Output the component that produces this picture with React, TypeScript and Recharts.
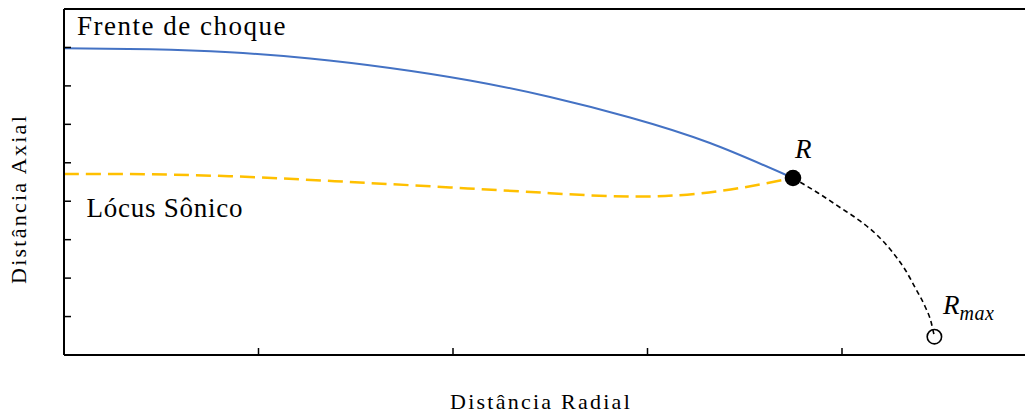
import React from 'react';
import { ComposedChart, XAxis, YAxis, Line, Scatter } from 'recharts';

// values (radial, axial)
const shockX = [0, 0.442, 0.853, 1.265, 1.676, 2.087, 2.499, 2.91, 3.321, 3.748];
const shockY = [7.978, 7.952, 7.874, 7.713, 7.466, 7.14, 6.711, 6.178, 5.514, 4.604];

const sonicX = [0, 0.442, 0.956, 1.47, 1.985, 2.499, 2.961, 3.373, 3.748];
const sonicY = [4.71, 4.7, 4.63, 4.5, 4.36, 4.21, 4.12, 4.265, 4.604];

const rmaxX = [3.748, 3.877, 3.99, 4.093, 4.18, 4.257, 4.324, 4.38, 4.427, 4.458, 4.475];
const rmaxY = [4.604, 4.214, 3.837, 3.486, 3.121, 2.692, 2.224, 1.717, 1.261, 0.858, 0.476];

const rPoint = [{ x: 3.748, y: 4.604 }];
const rmaxPoint = [{ x: 4.475, y: 0.476 }];

const xTicks = [1, 2, 3, 4];
const yTicks = [1, 2, 3, 4, 5, 6, 7, 8];

const toPts = (xs: number[], ys: number[]) => xs.map((x, i) => ({ x, y: ys[i] }));
const shockData = toPts(shockX, shockY);
const sonicData = toPts(sonicX, sonicY);
const rmaxData = toPts(rmaxX, rmaxY);

const serif = "'Liberation Serif', 'DejaVu Serif', serif";
const noLabel = () => <g />;
const axisLine = { stroke: '#000', strokeWidth: 2 };
const tickLine = { stroke: '#000', strokeWidth: 1.5 };

const txt = (left: number, top: number, size: number, extra: React.CSSProperties = {}): React.CSSProperties => ({
  position: 'absolute',
  left,
  top,
  fontFamily: serif,
  fontSize: size,
  lineHeight: 1,
  whiteSpace: 'nowrap',
  color: '#000',
  ...extra,
});

export default function App() {
  return (
    <div style={{ position: 'absolute', left: 0, top: 0, width: 1025, height: 416, overflow: 'hidden', background: '#fff' }}>
      {/* plot box: left 64, top 9, bottom 355, right ~1036 (cropped) */}
      <ComposedChart width={1045} height={416} margin={{ top: 8, right: 7.5, bottom: 41, left: 44 }}>
        <XAxis xAxisId="x" dataKey="x" type="number" domain={[0, 5]} ticks={xTicks} height={20}
          axisLine={axisLine} tickLine={tickLine} tickSize={-7} tick={noLabel} allowDataOverflow />
        <XAxis xAxisId="top" orientation="top" type="number" domain={[0, 5]} height={1}
          axisLine={axisLine} tick={false} tickLine={false} />
        <YAxis yAxisId="y" dataKey="y" type="number" domain={[0, 9]} ticks={yTicks} width={20}
          axisLine={axisLine} tickLine={tickLine} tickSize={-7} tick={noLabel} allowDataOverflow />
        <YAxis yAxisId="right" orientation="right" type="number" domain={[0, 9]} width={1}
          axisLine={axisLine} tick={false} tickLine={false} />

        <Line xAxisId="x" yAxisId="y" data={shockData} dataKey="y" type="natural"
          stroke="#4472C4" strokeWidth={2} dot={false} activeDot={false} isAnimationActive={false} />
        <Scatter xAxisId="x" yAxisId="y" data={rPoint} dataKey="y" isAnimationActive={false}
          shape={(p: any) => <circle cx={p.cx} cy={p.cy} r={8.3} fill="#000" />} />
        <Line xAxisId="x" yAxisId="y" data={sonicData} dataKey="y" type="natural"
          stroke="#FFC000" strokeWidth={2.5} strokeDasharray="15 7" dot={false} activeDot={false} isAnimationActive={false} />
        <Line xAxisId="x" yAxisId="y" data={rmaxData} dataKey="y" type="monotone"
          stroke="#000" strokeWidth={1.6} strokeDasharray="5 3.5" dot={false} activeDot={false} isAnimationActive={false} />
        <Scatter xAxisId="x" yAxisId="y" data={rmaxPoint} dataKey="y" isAnimationActive={false}
          shape={(p: any) => <circle cx={p.cx} cy={p.cy} r={7.2} fill="none" stroke="#000" strokeWidth={1.6} />} />
      </ComposedChart>

      <div style={txt(77, 13.4, 27, { letterSpacing: 1.5 })}>Frente de choque</div>
      <div style={txt(86.5, 194.7, 27, { letterSpacing: 0.75 })}>Lócus Sônico</div>
      <div style={txt(795, 135.7, 27, { fontStyle: 'italic' })}>R</div>
      <div style={txt(943, 291.7, 27, { fontStyle: 'italic' })}>
        R<span style={{ fontSize: 20, verticalAlign: -6, letterSpacing: 0.5 }}>max</span>
      </div>
      <div style={txt(541, 390.9, 22, { letterSpacing: 2.25, transform: 'translateX(-50%)' })}>Distância Radial</div>
      <div style={txt(19.3 - 150, 198.5 - 11, 22, { width: 300, lineHeight: '22px', textAlign: 'center', letterSpacing: 2.25, transform: 'rotate(-90deg)' })}>
        Distância Axial
      </div>
    </div>
  );
}
